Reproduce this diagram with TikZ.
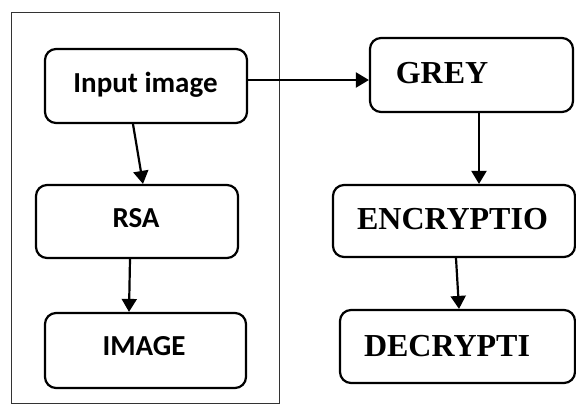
\documentclass[tikz,border=0pt]{standalone}
\usepackage{fontspec}
\setmainfont{Liberation Serif}
\newfontfamily\calibrifont{Carlito}
\usetikzlibrary{arrows.meta}
\begin{document}
\begin{tikzpicture}[x=1pt,y=-1pt,
  box/.style={draw, line width=2.2pt, rounded corners=11pt, inner sep=0pt},
  ltxt/.style={font=\calibrifont\bfseries\fontsize{29}{31}\selectfont, inner sep=0pt, anchor=base},
  rtxt/.style={font=\bfseries\fontsize{32}{34}\selectfont, inner sep=0pt, anchor=base},
  flow/.style={line width=2.2pt, -{Triangle[length=13pt,width=15pt]}}]
\useasboundingbox (0,0) rectangle (576,405);
% frame round the left-hand column
\draw[line width=1pt, black!80] (11,12) rectangle (279,403);
% left column
\node[box, minimum width=202pt, minimum height=74pt] (inp) at (146,86) {};
\node[box, minimum width=202pt, minimum height=73pt] (rsa) at (137,221.5) {};
\node[box, minimum width=201pt, minimum height=75pt] (img) at (145.5,350.5) {};
\node[ltxt] (inpt) at (145.5,92) {Input image};
\node[ltxt] (rsat) at (136,227) {RSA};
\node[ltxt] (imgt) at (144,355) {IMAGE};
% right column
\node[box, minimum width=203pt, minimum height=74pt] (grey) at (471.5,75) {};
\node[box, minimum width=242pt, minimum height=72pt] (enc) at (454,221) {};
\node[box, minimum width=235pt, minimum height=73pt] (dec) at (457.5,346.5) {};
\node[rtxt] (greyt) at (442,83) {GREY};
\node[rtxt] (enct) at (452.5,229) {ENCRYPTIO};
\node[rtxt] (dect) at (447,356) {DECRYPTI};
% connectors
\draw[flow] ([xshift=-13pt]inp.south) -- ([xshift=6pt]rsa.north);
\draw[flow] ([xshift=-7pt]rsa.south) -- ([xshift=-16.5pt]img.north);
\draw[flow] ([yshift=6pt]inp.east) -- ([yshift=-5pt]grey.west);
\draw[flow] ([xshift=7.5pt]grey.south) -- ([xshift=25pt]enc.north);
\draw[flow] ([xshift=2pt]enc.south) -- ([xshift=1.5pt]dec.north);
\end{tikzpicture}
\end{document}
